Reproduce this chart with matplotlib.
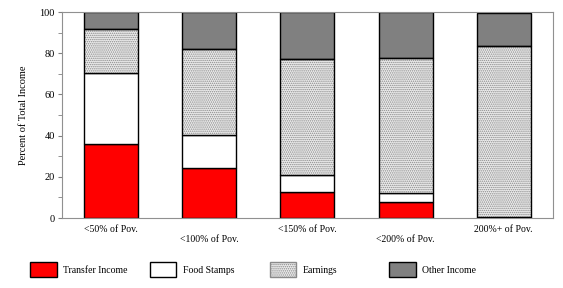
import matplotlib
matplotlib.use('Agg')
import matplotlib.pyplot as plt
import matplotlib.patches as mpatches
import numpy as np

# ─── Data ───────────────────────────────────────────────────────────────────
categories = ['<50% of Pov.', '<100% of Pov.', '<150% of Pov.', '<200% of Pov.', '200%+ of Pov.']
transfer_income = [35.8, 24.1, 12.8, 7.6, 0.2]
food_stamps = [34.4, 16.0, 7.9, 4.4, 0.1]
earnings = [21.7, 41.8, 56.6, 65.8, 83.0]
other_income = [8.1, 18.1, 22.7, 22.2, 16.2]
series_names = ['Transfer Income', 'Food Stamps', 'Earnings', 'Other Income']

plt.rcParams['font.family'] = ['Liberation Serif', 'DejaVu Serif']
plt.rcParams['hatch.linewidth'] = 0.7

STIPPLE = dict(facecolor='#ececec', edgecolor='#8a8a8a', hatch='........')

fig = plt.figure(figsize=(5.63, 2.88), dpi=100)
ax = fig.add_axes([0.110, 0.243, 0.872, 0.715])

x = np.arange(len(categories))
width = 0.55
tr = np.array(transfer_income)
fs = np.array(food_stamps)
ea = np.array(earnings)
ot = np.array(other_income)

ax.bar(x, tr, width, color='#ff0000', edgecolor='black', linewidth=1, zorder=2)
ax.bar(x, fs, width, bottom=tr, color='white', edgecolor='black', linewidth=1, zorder=2)
# stippled earnings: hatch in grey, outline drawn separately in black
ax.bar(x, ea, width, bottom=tr + fs, linewidth=0, zorder=2, **STIPPLE)
ax.bar(x, ea, width, bottom=tr + fs, fill=False, edgecolor='black', linewidth=1, zorder=3)
ax.bar(x, ot, width, bottom=tr + fs + ea, color='#808080', edgecolor='black', linewidth=1, zorder=2)

ax.set_xlim(-0.5, len(categories) - 0.5)
ax.set_ylim(0, 100)
ax.set_yticks(range(0, 101, 20))
ax.set_yticks(range(10, 100, 20), minor=True)
ax.tick_params(axis='y', which='both', direction='out', length=3, color='#808080',
               labelsize=7.5, pad=2)
ax.set_xticks([])
for s in ax.spines.values():
    s.set_color('#909090')

# staggered category labels
for i, lab in enumerate(categories):
    yoff = -0.055 if i % 2 == 0 else -0.105
    ax.text(i, yoff, lab, transform=ax.get_xaxis_transform(), ha='center',
            va='center', fontsize=7)

ax.set_ylabel('Percent of Total Income', fontsize=7.5, labelpad=8)

# legend entries spaced evenly along the bottom
handles = [
    mpatches.Patch(facecolor='#ff0000', edgecolor='black'),
    mpatches.Patch(facecolor='white', edgecolor='black'),
    mpatches.Patch(**STIPPLE),
    mpatches.Patch(facecolor='#808080', edgecolor='black'),
]
for i, (h, name) in enumerate(zip(handles, series_names)):
    lg = fig.legend([h], [name], loc='center left',
                    bbox_to_anchor=(0.054 + i * 0.2125, 0.063), frameon=False,
                    fontsize=7, handlelength=2.7, handleheight=2.0,
                    handletextpad=0.7, borderpad=0, borderaxespad=0)
    if i == 2:
        lg.legend_handles[0].set_linewidth(1)

plt.savefig('out.png', dpi=100)
